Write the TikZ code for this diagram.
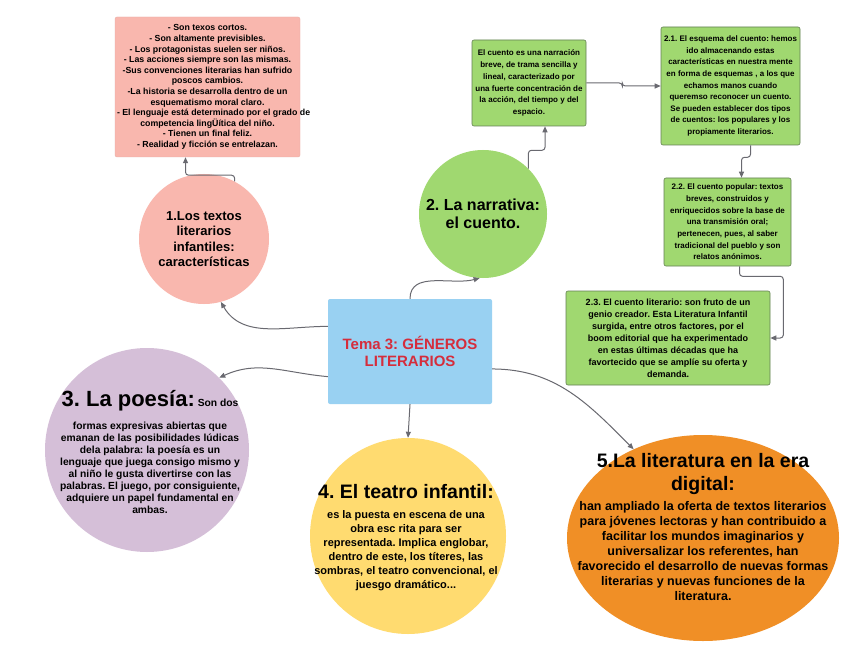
\documentclass[tikz,border=0pt]{standalone}
\usepackage{fontspec}
\setmainfont{Liberation Sans}
\usetikzlibrary{arrows.meta,positioning,calc,shapes.geometric}

\definecolor{rosa}{RGB}{249,183,174}
\definecolor{verde}{RGB}{160,216,112}
\definecolor{verdeborde}{RGB}{100,128,84}
\definecolor{celeste}{RGB}{153,209,242}
\definecolor{rojo}{RGB}{213,45,60}
\definecolor{lila}{RGB}{213,191,216}
\definecolor{amarillo}{RGB}{255,219,112}
\definecolor{naranja}{RGB}{240,143,38}
\definecolor{gris}{RGB}{105,105,112}

\newcommand{\fs}[2]{\fontsize{#1}{#2}\selectfont\bfseries\frenchspacing}

\tikzset{
  caja/.style={rectangle, rounded corners=2pt, align=center, inner sep=2pt},
  cajaverde/.style={caja, fill=verde, draw=verdeborde, line width=0.6pt},
  burbuja/.style={circle, inner sep=0pt, align=center},
  flecha/.style={draw=gris, line width=1pt, rounded corners=3pt, -{Triangle[length=6pt,width=5pt]}},
}

\begin{document}
\begin{tikzpicture}[x=1pt,y=-1pt]
    \useasboundingbox (0,0) rectangle (848,655);
    \fill[white] (0,0) rectangle (848,655);
    % centre
    \node[caja, fill=celeste, minimum width=164pt, minimum height=105pt, text=rojo, font=\fs{15}{17}] (tema) at (410,351.5) {Tema 3: GÉNEROS\\LITERARIOS};
    % 1. textos infantiles
    \node[burbuja, fill=rosa, minimum size=130pt, font=\fs{13}{15.5}] (textos) at (204,239) {1.Los textos\\literarios\\infantiles:\\características};
    \node[caja, fill=rosa, draw=rosa!85!gray, line width=0.4pt, minimum width=185pt, minimum height=140pt, font=\fs{8.8}{10.6}] (rasgos) at (207.5,87) {- Son texos cortos.\\- Son altamente previsibles.\\- Los protagonistas suelen ser niños.\\- Las acciones siempre son las mismas.\\-Sus convenciones literarias han sufrido\\poscos cambios.\\-La historia se desarrolla dentro de un\\esquematismo moral claro.\\\makebox[181pt][l]{- El lenguaje está determinado por el grado de}\\competencia lingÜítica del niño.\\- Tienen un final feliz.\\- Realidad y ficción se entrelazan.};
    % 2. narrativa
    \node[burbuja, fill=verde, minimum size=128pt, font=\fs{16}{18}] (narrativa) at (483,214) {2. La narrativa:\\el cuento.};
    \node[cajaverde, minimum width=114pt, minimum height=86pt, font=\fs{8}{11.8}] (cuento) at (529,83) {El cuento es una narración\\breve, de trama sencilla y\\lineal, caracterizado por\\una fuerte concentración de\\la acción, del tiempo y del\\espacio.};
    \node[cajaverde, minimum width=139pt, minimum height=118pt, font=\fs{8}{11.6}] (esquema) at (730.5,86) {2.1. El esquema del cuento: hemos\\ido almacenando estas\\características en nuestra mente\\en forma de esquemas , a los que\\echamos manos cuando\\queremso reconocer un cuento.\\Se pueden establecer dos tipos\\de cuentos: los populares y los\\propiamente literarios.};
    \node[cajaverde, minimum width=127pt, minimum height=88pt, font=\fs{8}{11.7}] (popular) at (727.5,222) {2.2. El cuento popular: textos\\breves, construidos y\\enriquecidos sobre la base de\\una transmisión oral;\\pertenecen, pues, al saber\\tradicional del pueblo y son\\relatos anónimos.};
    \node[cajaverde, minimum width=204pt, minimum height=94pt, font=\fs{9}{12}] (literario) at (668,338) {2.3. El cuento literario: son fruto de un\\genio creador. Esta Literatura Infantil\\surgida, entre otros factores, por el\\boom editorial que ha experimentado\\en estas últimas décadas que ha\\favortecido que se amplíe su oferta y\\demanda.};
    % 3. poesia
    \node[burbuja, fill=lila, minimum size=204pt] (poesia) at (147,450) {};
    \node[align=center, font=\fs{10.3}{12}] (poesiatxt) at (150,452) {{\fontsize{22}{24}\selectfont 3. La poesía:} Son dos\\[10pt]formas expresivas abiertas que\\emanan de las posibilidades lúdicas\\dela palabra: la poesía es un\\lenguaje que juega consigo mismo y\\al niño le gusta divertirse con las\\palabras. El juego, por consiguiente,\\adquiere un papel fundamental en\\ambas.};
    % 4. teatro
    \node[burbuja, fill=amarillo, minimum size=196pt] (teatro) at (408,536) {};
    \node[align=center, font=\fs{11}{14}] (teatrotxt) at (406,538) {{\fontsize{19.5}{23}\selectfont 4. El teatro infantil:}\\[6pt]es la puesta en escena de una\\obra esc rita para ser\\representada. Implica englobar,\\dentro de este, los títeres, las\\sombras, el teatro convencional, el\\juesgo dramático...};
    % 5. era digital
    \node[ellipse, inner sep=0pt, fill=naranja, minimum width=272pt, minimum height=206pt] (digital) at (703,538) {};
    \node[align=center, font=\fs{12.5}{15}] (digitaltxt) at (703,527) {{\fontsize{19.5}{23}\selectfont 5.La literatura en la era}\\[8pt]{\fontsize{19.5}{23}\selectfont digital:}\\[5pt]han ampliado la oferta de textos literarios\\para jóvenes lectoras y han contribuido a\\facilitar los mundos imaginarios y\\universalizar los referentes, han\\favorecido el desarrollo de nuevas formas\\literarias y nuevas funciones de la\\literatura.};
    % links from centre
    \draw[flecha] (tema.163) to[out=180,in=-60] (textos.-75);
    \draw[flecha] (tema.197) to[out=175,in=25] (poesia.45);
    \draw[flecha] (tema.north) to[out=90,in=195] (narrativa.-93);
    \draw[flecha] (tema.south) -- (teatro.north);
    \draw[flecha] (tema.-12) to[out=0,in=135] (digital.128);
    % elbow links
    \draw[flecha] (textos.62) |- ($(rasgos.south)+(-22,18)$) -- ($(rasgos.south)+(-22,0)$);
    \draw[flecha] (narrativa.45) |- ($(cuento.south)+(16,24)$) -- ($(cuento.south)+(16,0)$);
    \draw[flecha] (cuento.east) -- ++(36,0) |- (esquema.west);
    \draw[flecha] ($(esquema.south)+(20,0)$) -- ++(0,12) -| ($(popular.north)+(14,0)$);
    \draw[flecha] ($(popular.south)+(12,0)$) -- ++(0,10) -| ($(literario.east)+(13,0)$) -- (literario.east);
\end{tikzpicture}
\end{document}
